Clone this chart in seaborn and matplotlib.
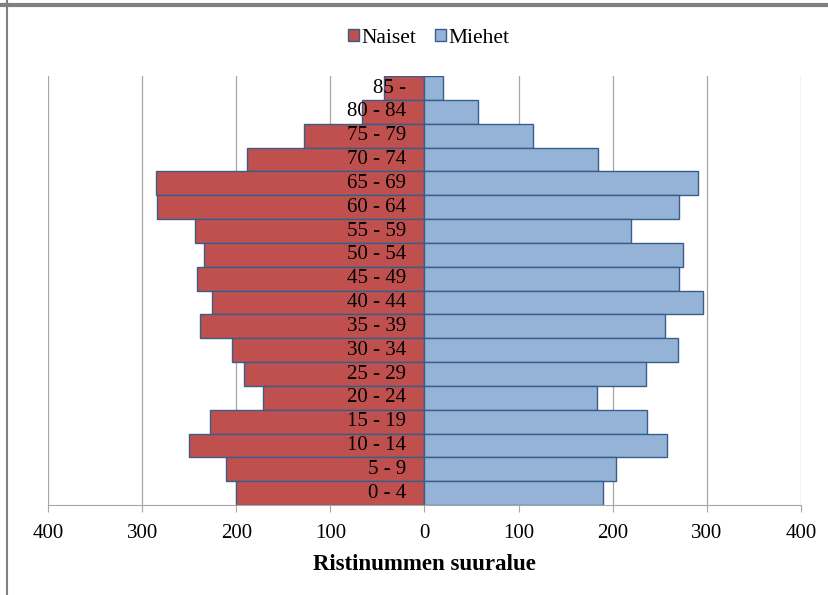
import matplotlib.pyplot as plt
import matplotlib.lines as mlines
import matplotlib.transforms as mtransforms
import pandas as pd
import seaborn as sns

# Age groups, top to bottom
ages = ["85 -", "80 - 84", "75 - 79", "70 - 74", "65 - 69", "60 - 64", "55 - 59",
        "50 - 54", "45 - 49", "40 - 44", "35 - 39", "30 - 34", "25 - 29",
        "20 - 24", "15 - 19", "10 - 14", "5 - 9", "0 - 4"]
naiset = [43, 66, 128, 189, 285, 284, 244, 234, 242, 226, 239, 205, 192, 172, 228, 250, 211, 200]
miehet = [20, 57, 115, 184, 291, 271, 219, 275, 271, 296, 256, 270, 235, 183, 237, 258, 204, 190]
xticks = [-400, -300, -200, -100, 0, 100, 200, 300, 400]

df = pd.DataFrame({"age": ages, "Naiset": [-v for v in naiset], "Miehet": miehet})

sns.set_style("white")
plt.rcParams["font.family"] = ["Liberation Serif", "DejaVu Serif"]
plt.rcParams["text.color"] = "black"
plt.rcParams["xtick.color"] = "black"
plt.rcParams["axes.labelcolor"] = "black"

fig = plt.figure(figsize=(8.29, 5.95), dpi=100)
ax = fig.add_axes([0.058, 0.151, 0.908, 0.721])

red = "#C0504D"
blue = "#95B3D7"
edge = "#385D8A"

sns.barplot(data=df, y="age", x="Naiset", order=ages, color=red, width=1.0,
            saturation=1, edgecolor=edge, linewidth=1.0, orient="h", ax=ax,
            zorder=2, label="Naiset")
sns.barplot(data=df, y="age", x="Miehet", order=ages, color=blue, width=1.0,
            saturation=1, edgecolor=edge, linewidth=1.0, orient="h", ax=ax,
            zorder=2, label="Miehet")

ax.set_xlim(-400, 400)
ax.set_ylim(len(ages) - 0.5, -0.5)
ax.set_xticks(xticks)
ax.set_xticklabels([str(abs(t)) for t in xticks], fontsize=15)
ax.set_yticks([])
ax.set_ylabel("")
ax.set_xlabel("Ristinummen suuralue", fontsize=16.5, fontweight="bold", labelpad=8)

ax.set_axisbelow(True)
ax.grid(axis="x", color="#A6A6A6", linewidth=0.9)
for side in ["top", "left", "right"]:
    ax.spines[side].set_visible(False)
ax.spines["bottom"].set_color("#A6A6A6")
ax.tick_params(axis="x", bottom=True, length=5, color="#A6A6A6", labelcolor="black",
               direction="out", pad=8.5)

# age labels, right-aligned just left of zero
offset = mtransforms.ScaledTranslation(-18 / 100, 0, fig.dpi_scale_trans)
for i, a in enumerate(ages):
    ax.text(0, i, a, ha="right", va="center", fontsize=15, color="black",
            transform=ax.transData + offset, zorder=5)

ax.legend(loc="center", bbox_to_anchor=(0.517, 0.936), bbox_transform=fig.transFigure,
          ncol=2, frameon=False, fontsize=15.5, handlelength=0.5, handleheight=0.5,
          handletextpad=0.1, columnspacing=0.9, borderpad=0)

# frame remnants from the original screenshot
fig.add_artist(mlines.Line2D([0, 1], [1 - 4.5 / 595, 1 - 4.5 / 595], color="#808080", linewidth=3))
fig.add_artist(mlines.Line2D([7 / 829, 7 / 829], [0, 1], color="#808080", linewidth=1.5))

fig.savefig("out.png", dpi=100)
